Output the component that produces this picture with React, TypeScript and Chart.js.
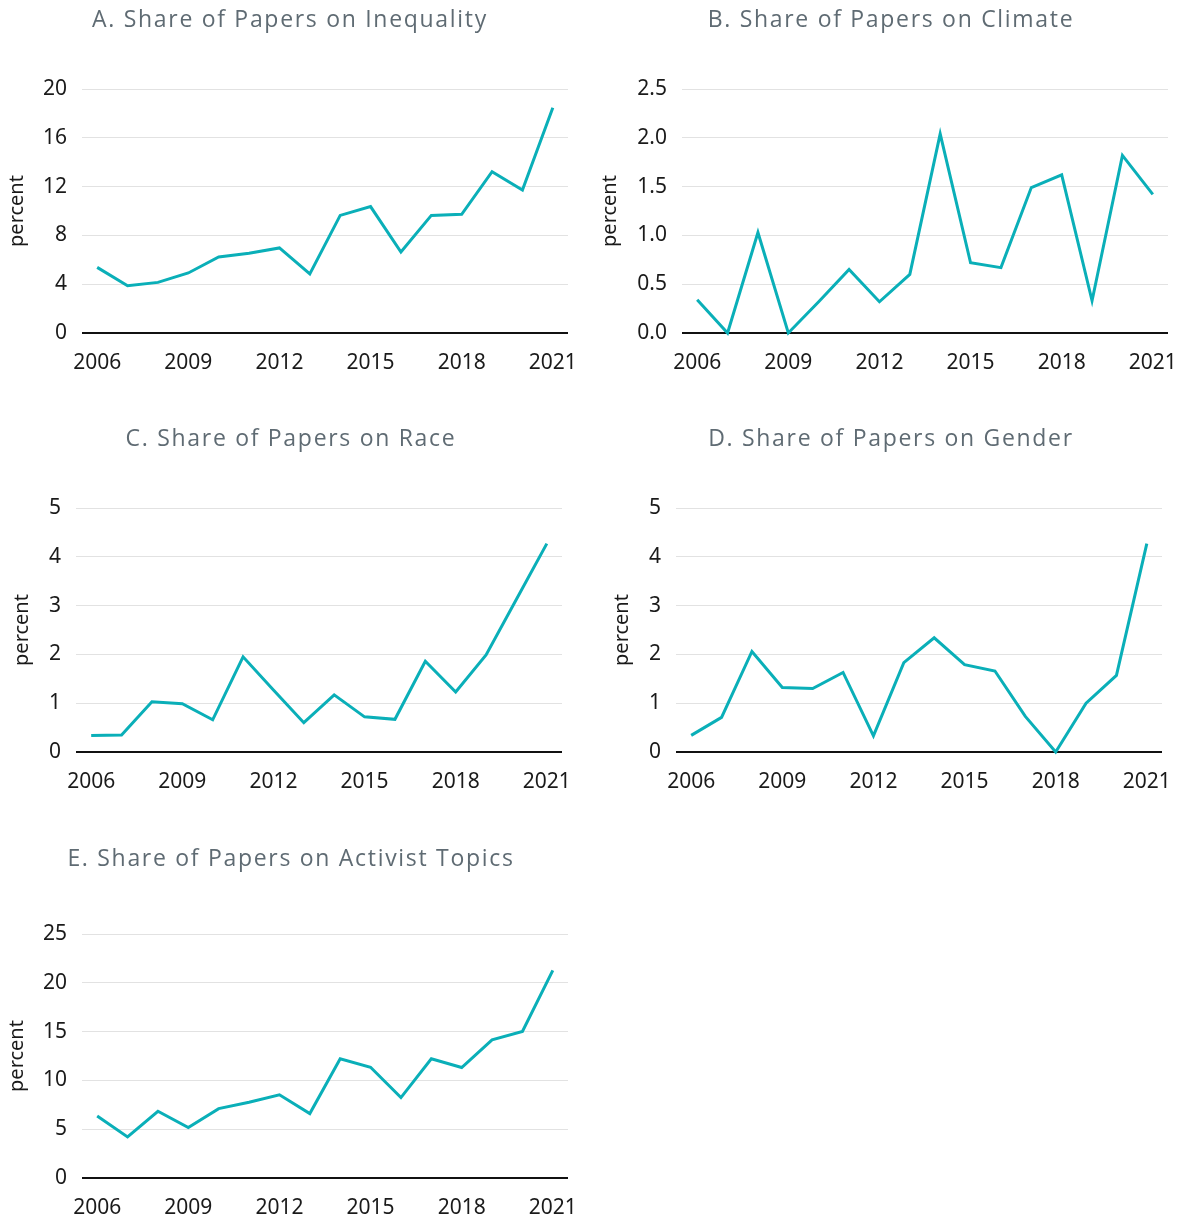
import React, { useEffect, useRef } from "react";
import { Chart, registerables } from "chart.js";

Chart.register(...registerables);

const years = ["2006", "2007", "2008", "2009", "2010", "2011", "2012", "2013", "2014", "2015", "2016", "2017", "2018", "2019", "2020", "2021"];
const xTickLabels = ["2006", "2009", "2012", "2015", "2018", "2021"];

const inequality = [5.38, 3.88, 4.15, 4.92, 6.23, 6.53, 6.97, 4.84, 9.64, 10.36, 6.64, 9.64, 9.73, 13.22, 11.72, 18.47];
const climate = [0.34, 0, 1.03, 0, 0.32, 0.65, 0.32, 0.6, 2.04, 0.72, 0.67, 1.49, 1.62, 0.33, 1.82, 1.42];
const race = [0.34, 0.35, 1.03, 0.99, 0.66, 1.95, 1.27, 0.6, 1.17, 0.72, 0.67, 1.86, 1.23, 1.99, 3.13, 4.27];
const gender = [0.34, 0.71, 2.06, 1.32, 1.3, 1.63, 0.33, 1.83, 2.34, 1.79, 1.66, 0.73, 0, 1.0, 1.57, 4.27];
const activist = [6.36, 4.21, 6.84, 5.16, 7.11, 7.76, 8.52, 6.6, 12.21, 11.35, 8.24, 12.21, 11.32, 14.16, 15.01, 21.27];

const titles = [
  "A. Share of Papers on Inequality",
  "B. Share of Papers on Climate",
  "C. Share of Papers on Race",
  "D. Share of Papers on Gender",
  "E. Share of Papers on Activist Topics",
];

const yMaxes = [20, 2.5, 5, 5, 25];
const ySteps = [4, 0.5, 1, 1, 5];
const yDecimals = [0, 1, 0, 0, 0];
const seriesList = [inequality, climate, race, gender, activist];

// layout boxes (page pixels)
const panels = [
  { left: 0, top: 0, plotLeft: 82, plotRight: 568, plotTop: 89, plotBottom: 333, labelX: 17, titleX: 290, titleY: 20 },
  { left: 590, top: 0, plotLeft: 682, plotRight: 1168, plotTop: 89, plotBottom: 333, labelX: 610, titleX: 891, titleY: 20 },
  { left: 0, top: 419, plotLeft: 76, plotRight: 562, plotTop: 508, plotBottom: 752, labelX: 22, titleX: 291, titleY: 439 },
  { left: 590, top: 419, plotLeft: 676, plotRight: 1162, plotTop: 508, plotBottom: 752, labelX: 622, titleX: 891, titleY: 439 },
  { left: 0, top: 839, plotLeft: 82, plotRight: 568, plotTop: 934, plotBottom: 1178, labelX: 17, titleX: 291, titleY: 859 },
];

const CANVAS_W = 650;
const X_AXIS_H = 42;
const LINE_COLOR = "#0aafb8";
const TICK_FONT = { family: "'Noto Sans', sans-serif", size: 21 };

function Panel({ idx }: { idx: number }) {
  const ref = useRef<HTMLCanvasElement | null>(null);
  const p = panels[idx];
  const height = p.plotBottom - p.top + X_AXIS_H;
  useEffect(() => {
    if (!ref.current) return;
    const yWidth = p.plotLeft - p.left;
    const titlePlugin = {
      id: "panelTitle",
      afterDraw(chart: any) {
        const ctx = chart.ctx;
        ctx.save();
        ctx.font = "23px 'Open Sans', 'Noto Sans', sans-serif";
        ctx.fillStyle = "#5f6b73";
        ctx.textAlign = "center";
        ctx.textBaseline = "middle";
        try {
          (ctx as any).letterSpacing = "1.7px";
        } catch (e) {}
        ctx.fillText(titles[idx], p.titleX - p.left, p.titleY - p.top);
        ctx.restore();
      },
    };
    const chart = new Chart(ref.current, {
      type: "line",
      data: {
        labels: years,
        datasets: [
          {
            data: seriesList[idx],
            borderColor: LINE_COLOR,
            borderWidth: 3,
            pointRadius: 0,
            tension: 0,
            fill: false,
            clip: 6,
          },
        ],
      },
      plugins: [titlePlugin],
      options: {
        animation: false,
        responsive: false,
        devicePixelRatio: 1,
        layout: { padding: { left: 0, right: p.left + CANVAS_W - p.plotRight, top: p.plotTop - p.top, bottom: 0 } },
        plugins: {
          legend: { display: false },
          tooltip: { enabled: false },
          title: { display: false },
        },
        scales: {
          x: {
            type: "category",
            offset: true,
            grid: { display: false, drawTicks: false },
            border: { display: false },
            ticks: {
              autoSkip: false,
              maxRotation: 0,
              minRotation: 0,
              padding: 17,
              color: "#1a1a1a",
              font: TICK_FONT,
              callback: (_v: any, i: number) => (xTickLabels.includes(years[i]) ? years[i] : ""),
            },
            afterFit: (s: any) => {
              s.height = X_AXIS_H;
            },
          },
          y: {
            min: 0,
            max: yMaxes[idx],
            border: { display: false },
            grid: {
              drawTicks: false,
              color: (c: any) => (c.tick && c.tick.value === 0 ? "#111111" : "#e2e2e2"),
              lineWidth: (c: any) => (c.tick && c.tick.value === 0 ? 2 : 1),
            },
            ticks: {
              stepSize: ySteps[idx],
              padding: 15,
              color: "#1a1a1a",
              font: TICK_FONT,
              callback: (v: any) => Number(v).toFixed(yDecimals[idx]),
            },
            title: {
              display: true,
              text: "percent",
              color: "#1a1a1a",
              font: { family: "'Noto Sans', sans-serif", size: 20, lineHeight: 1.2 },
              padding: { top: p.labelX - p.left - 12, bottom: 0 },
            },
            afterFit: (s: any) => {
              s.width = yWidth;
            },
          },
        },
      },
    });
    return () => chart.destroy();
  }, [idx]);
  return (
    <canvas
      ref={ref}
      width={CANVAS_W}
      height={height}
      style={{ position: "absolute", left: p.left, top: p.top, width: CANVAS_W, height }}
    />
  );
}

export default function App() {
  return (
    <div style={{ position: "absolute", left: 0, top: 0, width: 1183, height: 1220, background: "#fff", overflow: "hidden" }}>
      {panels.map((_, i) => (
        <Panel key={i} idx={i} />
      ))}
    </div>
  );
}
